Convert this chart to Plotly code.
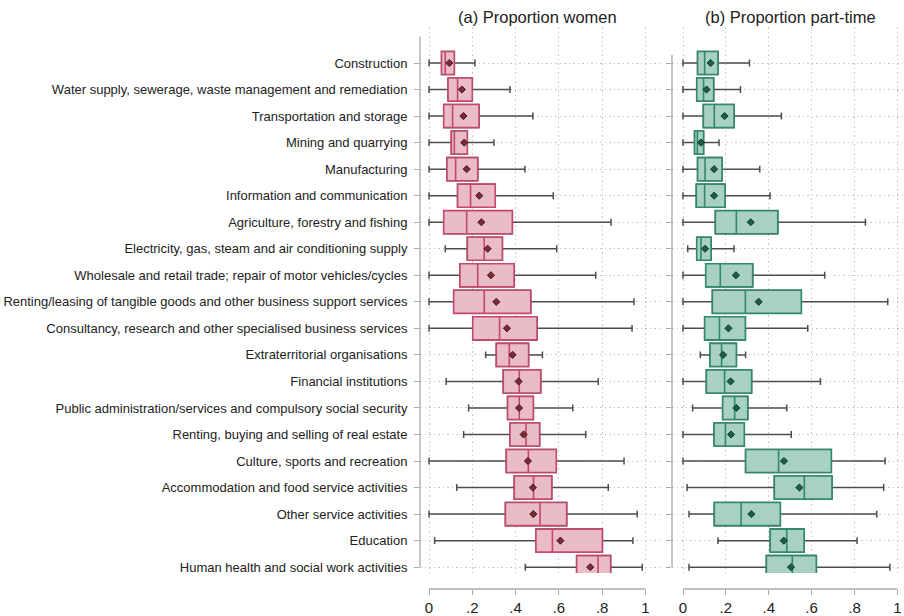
import plotly.graph_objects as go

# Industries, top to bottom
categories = [
    "Construction",
    "Water supply, sewerage, waste management and remediation",
    "Transportation and storage",
    "Mining and quarrying",
    "Manufacturing",
    "Information and communication",
    "Agriculture, forestry and fishing",
    "Electricity, gas, steam and air conditioning supply",
    "Wholesale and retail trade; repair of motor vehicles/cycles",
    "Renting/leasing of tangible goods and other business support services",
    "Consultancy, research and other specialised business services",
    "Extraterritorial organisations",
    "Financial institutions",
    "Public administration/services and compulsory social security",
    "Renting, buying and selling of real estate",
    "Culture, sports and recreation",
    "Accommodation and food service activities",
    "Other service activities",
    "Education",
    "Human health and social work activities",
]

# (a) Proportion women: box-plot summary statistics
women_lo = [0, 0, 0, 0, 0, 0, 0, 0.075, 0, 0, 0, 0.262, 0.079, 0.183, 0.160, 0, 0.128, 0, 0.026, 0.445]
women_q1 = [0.058, 0.088, 0.068, 0.103, 0.083, 0.132, 0.068, 0.177, 0.143, 0.114, 0.202, 0.311, 0.343, 0.363, 0.374, 0.357, 0.394, 0.353, 0.494, 0.682]
women_med = [0.075, 0.132, 0.109, 0.117, 0.123, 0.192, 0.174, 0.255, 0.225, 0.255, 0.326, 0.371, 0.417, 0.417, 0.448, 0.459, 0.483, 0.513, 0.570, 0.781]
women_q3 = [0.117, 0.200, 0.231, 0.177, 0.225, 0.306, 0.385, 0.339, 0.393, 0.470, 0.499, 0.460, 0.516, 0.482, 0.511, 0.588, 0.567, 0.636, 0.801, 0.839]
women_hi = [0.212, 0.374, 0.480, 0.300, 0.443, 0.574, 0.841, 0.590, 0.770, 0.947, 0.938, 0.524, 0.782, 0.664, 0.724, 0.901, 0.828, 0.962, 0.942, 0.985]
women_mean = [0.094, 0.152, 0.159, 0.163, 0.174, 0.232, 0.242, 0.271, 0.286, 0.311, 0.360, 0.386, 0.414, 0.416, 0.437, 0.457, 0.480, 0.482, 0.607, 0.745]

# (b) Proportion part-time: box-plot summary statistics
pt_lo = [0, 0, 0, 0, 0, 0, 0, 0.022, 0, 0, 0, 0.081, 0, 0.045, 0, 0, 0.019, 0.028, 0.163, 0.028]
pt_q1 = [0.068, 0.064, 0.095, 0.054, 0.068, 0.062, 0.151, 0.064, 0.106, 0.137, 0.101, 0.126, 0.109, 0.185, 0.145, 0.292, 0.426, 0.146, 0.407, 0.389]
pt_med = [0.101, 0.096, 0.146, 0.067, 0.103, 0.101, 0.249, 0.084, 0.174, 0.291, 0.170, 0.180, 0.194, 0.241, 0.198, 0.446, 0.566, 0.271, 0.484, 0.510]
pt_q3 = [0.163, 0.143, 0.238, 0.096, 0.182, 0.196, 0.442, 0.131, 0.325, 0.552, 0.291, 0.249, 0.320, 0.302, 0.286, 0.692, 0.695, 0.454, 0.565, 0.622]
pt_hi = [0.310, 0.268, 0.459, 0.168, 0.358, 0.406, 0.851, 0.238, 0.661, 0.955, 0.582, 0.292, 0.641, 0.484, 0.505, 0.943, 0.936, 0.904, 0.812, 0.965]
pt_mean = [0.129, 0.110, 0.194, 0.084, 0.145, 0.145, 0.316, 0.103, 0.247, 0.353, 0.212, 0.187, 0.222, 0.249, 0.224, 0.471, 0.543, 0.319, 0.470, 0.504]

x_ticks = [0, 0.2, 0.4, 0.6, 0.8, 1.0]
x_tick_text = ["0", ".2", ".4", ".6", ".8", "1"]

rows = list(range(len(categories)))

W, H = 904, 616
FONT = "Arial, Liberation Sans, sans-serif"
WHISKER = "#4d4d4d"
AXIS = "#aaaaaa"
GRID = "#c8c8c8"

panels = [
    dict(xa="x", ya="y", lo=women_lo, q1=women_q1, med=women_med, q3=women_q3, hi=women_hi,
         mean=women_mean, fill="#e9bcc8", line="#c4486c", dot="#7b2a38", dotline="#4a1820"),
    dict(xa="x2", ya="y2", lo=pt_lo, q1=pt_q1, med=pt_med, q3=pt_q3, hi=pt_hi,
         mean=pt_mean, fill="#a9d0c5", line="#2f8a6d", dot="#1d5e47", dotline="#0f3b2b"),
]

fig = go.Figure()
BOX_W = 0.87
for p in panels:
    # whiskers (grey) drawn first
    fig.add_trace(go.Box(
        y=rows, q1=p["q1"], median=p["med"], q3=p["q3"],
        lowerfence=p["lo"], upperfence=p["hi"], orientation="h",
        width=BOX_W, whiskerwidth=0.3, boxpoints=False,
        line=dict(color=WHISKER, width=1.5), fillcolor="rgba(0,0,0,0)",
        xaxis=p["xa"], yaxis=p["ya"], showlegend=False, hoverinfo="skip",
    ))
    # coloured interquartile box with median
    fig.add_trace(go.Box(
        y=rows, q1=p["q1"], median=p["med"], q3=p["q3"],
        lowerfence=p["q1"], upperfence=p["q3"], orientation="h",
        width=BOX_W, whiskerwidth=0, boxpoints=False,
        line=dict(color=p["line"], width=1.6), fillcolor=p["fill"],
        xaxis=p["xa"], yaxis=p["ya"], showlegend=False, hoverinfo="skip",
    ))
    # mean markers
    fig.add_trace(go.Scatter(
        x=p["mean"], y=rows, mode="markers",
        marker=dict(symbol="diamond", size=5.5, color=p["dot"],
                    line=dict(color=p["dotline"], width=1)),
        xaxis=p["xa"], yaxis=p["ya"], showlegend=False, hoverinfo="skip",
    ))

px_x = lambda v: v / W
px_y = lambda v: 1 - v / H

y_dom = [px_y(573), px_y(27)]
x_pos = px_y(589)
y_range = [19.22, -1.357]

common_x = dict(
    tickvals=x_ticks, ticktext=x_tick_text, ticks="outside", ticklen=5,
    tickcolor=AXIS, tickwidth=1.2, showline=False, zeroline=False,
    showgrid=True, gridcolor=GRID, griddash="1.5px,3px", gridwidth=1,
    tickfont=dict(family=FONT, size=15, color="#222222"),
    anchor="free", position=x_pos, automargin=False, fixedrange=True,
)
common_y = dict(
    range=y_range, tickvals=rows, ticks="outside", ticklen=5,
    tickcolor=AXIS, tickwidth=1.2, showline=False, zeroline=False,
    showgrid=True, gridcolor=GRID, griddash="1.5px,3px", gridwidth=1,
    domain=y_dom, automargin=False, fixedrange=True,
)

fig.update_layout(
    width=W, height=H,
    margin=dict(l=0, r=0, t=0, b=0),
    paper_bgcolor="white", plot_bgcolor="white",
    boxmode="overlay",
    font=dict(family=FONT, color="#222222"),
    xaxis=dict(domain=[px_x(420), px_x(663)], range=[-0.0416, 1.081], **common_x),
    xaxis2=dict(domain=[px_x(672), 1.0], range=[-0.0513, 1.031], **common_x),
    yaxis=dict(anchor="x", ticktext=categories, showticklabels=True,
               ticklabelstandoff=4,
               tickfont=dict(family=FONT, size=13, color="#222222"), **common_y),
    yaxis2=dict(anchor="x2", showticklabels=False, **common_y),
)

# axis lines, spanning the tick range
for xa, ya, top in [("x", "y", -1.0), ("x2", "y2", -0.3)]:
    fig.add_shape(type="line", xref=f"{xa} domain", yref=ya, x0=0, x1=0,
                  y0=top, y1=rows[-1], line=dict(color=AXIS, width=1.3))
    fig.add_shape(type="line", xref=xa, yref="paper", x0=x_ticks[0], x1=x_ticks[-1],
                  y0=x_pos, y1=x_pos, line=dict(color=AXIS, width=1.3))

# panel titles
for xa, title in [("x", "(a) Proportion women"), ("x2", "(b) Proportion part-time")]:
    fig.add_annotation(text=title, xref=xa, yref="paper", x=0.5, y=px_y(17),
                       xanchor="center", yanchor="middle", showarrow=False,
                       font=dict(family=FONT, size=16.5, color="#222222"))

fig.write_html("out.html")
